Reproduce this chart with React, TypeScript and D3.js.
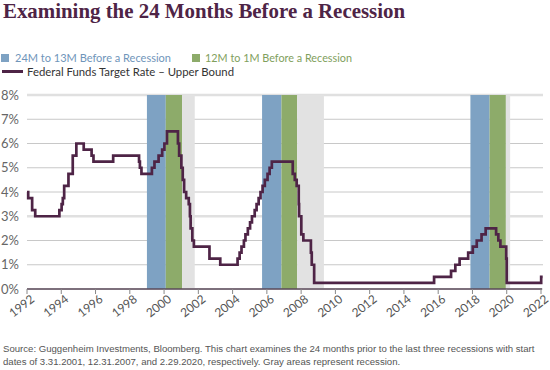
import React from 'react'
import * as d3 from 'd3'

// change points of the fed funds target (upper bound), decimal year
const rateYears = [
  1992.0, 1992.07, 1992.3, 1992.48, 1993.89, 1994.02, 1994.09, 1994.17, 1994.42, 1994.67,
  1994.88, 1995.31, 1995.77, 1995.88, 1997.03, 1998.54, 1998.59, 1998.68, 1999.29, 1999.44,
  1999.68, 1999.89, 2000.02, 2000.17, 2000.81, 2000.88, 2001.01, 2001.09, 2001.17, 2001.29,
  2001.44, 2001.51, 2001.55, 2001.65, 2001.74, 2002.65, 2003.28, 2004.29, 2004.41, 2004.52,
  2004.66, 2004.75, 2004.89, 2005.02, 2005.13, 2005.29, 2005.4, 2005.52, 2005.63, 2005.75,
  2005.88, 2006.04, 2006.16, 2006.29, 2007.51, 2007.63, 2007.74, 2007.86, 2007.88, 2008.01,
  2008.13, 2008.57, 2008.62, 2008.76, 2015.76, 2016.75, 2017.0, 2017.25, 2017.75, 2018.02,
  2018.25, 2018.53, 2018.77, 2019.38, 2019.51, 2019.63, 2019.97, 2020.0, 2022.01, 2022.1,
]
const rateValues = [
  4.0, 3.75, 3.25, 3.0, 3.25, 3.5, 3.75, 4.25, 4.75, 5.5,
  6.0, 5.75, 5.5, 5.25, 5.5, 5.25, 5.0, 4.75, 5.0, 5.25,
  5.5, 5.75, 6.0, 6.5, 6.0, 5.5, 5.0, 4.5, 4.0, 3.75,
  3.5, 3.0, 2.5, 2.0, 1.75, 1.25, 1.0, 1.25, 1.5, 1.75,
  2.0, 2.25, 2.5, 2.75, 3.0, 3.25, 3.5, 3.75, 4.0, 4.25,
  4.5, 4.75, 5.0, 5.25, 4.75, 4.5, 4.25, 3.5, 3.0, 2.25,
  2.0, 1.5, 1.0, 0.25, 0.5, 0.75, 1.0, 1.25, 1.5, 1.75,
  2.0, 2.25, 2.5, 2.25, 2.0, 1.75, 1.25, 0.25, 0.5, 0.5,
]

// shaded periods [start, end] in decimal years
const blueBands = [[1999.0, 2000.1], [2005.72, 2006.85], [2017.88, 2019.0]]
const greenBands = [[2000.1, 2001.05], [2006.85, 2007.77], [2019.0, 2019.95]]
const grayBands = [[2001.05, 2001.79], [2007.77, 2009.33], [2019.95, 2020.2]]

const yTicks = [0, 1, 2, 3, 4, 5, 6, 7, 8]
const xTicks = d3.range(1992, 2023, 2)

const title = 'Examining the 24 Months Before a Recession'
const legendBlue = '24M to 13M Before a Recession'
const legendGreen = '12M to 1M Before a Recession'
const legendLine = 'Federal Funds Target Rate \u2013 Upper Bound'
const source1 = 'Source: Guggenheim Investments, Bloomberg. This chart examines the 24 months prior to the last three recessions with start'
const source2 = 'dates of 3.31.2001, 12.31.2007, and 2.29.2020, respectively. Gray areas represent recession.'

const W = 550
const H = 370
const sans = 'Lato, "Open Sans", sans-serif'
const arial = '"Liberation Sans", Arial, sans-serif'

export default function App() {
  const x = d3.scaleLinear().domain([1992, 2022]).range([27, 541])
  const y = d3.scaleLinear().domain([0, 8]).range([289, 95])

  const points = rateYears.map((t, i) => [t, rateValues[i]])
  const line = d3.line<number[]>()
    .x((d) => x(d[0]))
    .y((d) => y(d[1]))
    .curve(d3.curveStepAfter)

  const band = (b: number[], color: string, key: string) => (
    <rect key={key} x={x(b[0])} width={x(b[1]) - x(b[0])} y={y(8)} height={y(0) - y(8)} fill={color} />
  )

  return (
    <svg width={W} height={H} style={{ position: 'absolute', left: 0, top: 0, background: '#fff' }}>
      <text x={3} y={18} fontFamily='"Liberation Serif", serif' fontWeight="bold" fontSize={21}
        fill="#4e2446" textLength={402} lengthAdjust="spacingAndGlyphs">
        {title}
      </text>

      {/* legend */}
      <rect x={1} y={54} width={8} height={8} fill="#7ea2c3" />
      <text x={15} y={62} fontFamily={sans} fontSize={11.5} fill="#6f95ba"
        textLength={156} lengthAdjust="spacingAndGlyphs">{legendBlue}</text>
      <rect x={192} y={54} width={8} height={8} fill="#8dab6a" />
      <text x={205} y={62} fontFamily={sans} fontSize={11.5} fill="#7fa05d"
        textLength={147} lengthAdjust="spacingAndGlyphs">{legendGreen}</text>
      <line x1={2} x2={23} y1={71.5} y2={71.5} stroke="#4e2446" strokeWidth={3} />
      <text x={27} y={75.5} fontFamily={sans} fontSize={11.5} fill="#333"
        textLength={207} lengthAdjust="spacingAndGlyphs">{legendLine}</text>

      {/* gridlines */}
      {yTicks.map((t) => (
        <line key={t} x1={x(1992)} x2={x(2022) + 2} y1={y(t)} y2={y(t)}
          stroke={t === 8 || t === 3 ? '#e0e0e0' : '#c8c8c8'}
          strokeWidth={t === 8 || t === 3 ? 2.5 : 1} />
      ))}

      {blueBands.map((b, i) => band(b, '#7ea2c3', 'b' + i))}
      {greenBands.map((b, i) => band(b, '#8dab6a', 'g' + i))}
      {grayBands.map((b, i) => band(b, '#e2e2e2', 'r' + i))}

      {yTicks.map((t) => (
        <text key={'yl' + t} x={19} y={y(t) + 4.5} textAnchor="end" fontFamily={sans} fontSize={13} fill="#666">
          {t}%
        </text>
      ))}

      <path d={line(points) || ''} fill="none" stroke="#4e2446" strokeWidth={2.7} strokeLinejoin="miter" />

      {/* x axis */}
      <line x1={x(1992)} x2={x(2022) + 1} y1={y(0)} y2={y(0)} stroke="#5b4a5a" strokeWidth={1.5} />
      {xTicks.map((t) => (
        <g key={'xt' + t} transform={`translate(${x(t)},${y(0)})`}>
          <line y1={0} y2={5} stroke="#888" />
          <text transform="translate(3,5) rotate(-38)" textAnchor="end" dy="0.7em" fontFamily={sans} fontSize={12} fill="#555">
            {t}
          </text>
        </g>
      ))}

      <text x={3} y={352} fontFamily={arial} fontSize={9.6} fill="#555">{source1}</text>
      <text x={3} y={365} fontFamily={arial} fontSize={9.6} fill="#555">{source2}</text>
    </svg>
  )
}
